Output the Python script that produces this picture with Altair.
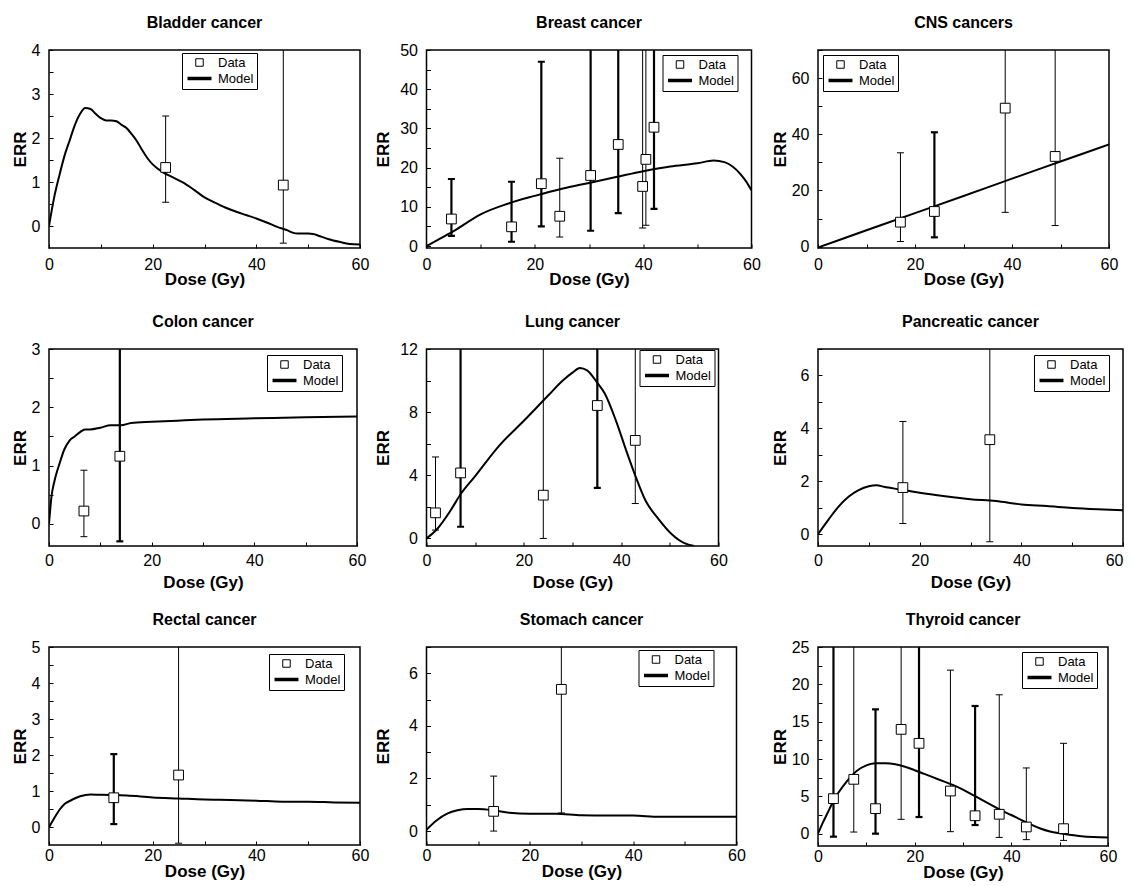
import altair as alt
import pandas as pd

FONT = "Liberation Sans"

# ---------------- data ----------------
X_TICKS = [0, 10, 20, 30, 40, 50, 60]
LEGEND_ITEMS = ["Data", "Model"]

bladder_line_x = [0, 1, 2, 3, 4, 5, 6, 7, 8, 9, 10, 11, 12, 13, 14, 15, 16, 17, 18, 19, 20, 22, 24, 26, 28, 30,
                  32, 34, 36, 38, 40, 42, 44, 46, 47, 48, 50, 51, 52, 54, 56, 58, 60]
bladder_line_y = [0, 0.65, 1.15, 1.6, 1.95, 2.3, 2.55, 2.68, 2.66, 2.55, 2.45, 2.4, 2.4, 2.38, 2.3, 2.22, 2.08,
                  1.92, 1.72, 1.54, 1.4, 1.22, 1.1, 0.98, 0.82, 0.65, 0.53, 0.42, 0.33, 0.25, 0.17, 0.08, -0.02,
                  -0.1, -0.15, -0.17, -0.17, -0.18, -0.22, -0.3, -0.36, -0.41, -0.42]
bladder_dose = [22.5, 45.2]
bladder_err = [1.33, 0.93]
bladder_lo = [0.54, -0.39]
bladder_hi = [2.5, 6.0]
bladder_thick = [0, 0]
bladder_yticks = [0, 0.5, 1, 1.5, 2, 2.5, 3, 3.5, 4]

breast_line_x = [0, 2, 5, 10, 15, 20, 25, 30, 35, 40, 45, 50, 53, 55, 56.5, 58, 59, 60]
breast_line_y = [0, 1.5, 3.8, 8.1, 10.8, 12.8, 14.6, 16.1, 17.6, 19.1, 20.3, 21.1, 21.8, 21.4, 20.3, 18.3, 16.5, 14.2]
breast_dose = [4.6, 15.7, 21.2, 24.6, 30.3, 35.4, 39.9, 40.5, 42.0]
breast_err = [6.9, 4.9, 15.9, 7.6, 18.0, 25.9, 15.2, 22.1, 30.3]
breast_lo = [2.6, 1.1, 5.0, 2.3, 3.9, 8.4, 4.6, 5.3, 9.5]
breast_hi = [17.1, 16.4, 47.0, 22.4, 60, 60, 60, 60, 60]
breast_thick = [1, 1, 1, 0, 1, 1, 0, 0, 1]
breast_yticks = [0, 5, 10, 15, 20, 25, 30, 35, 40, 45, 50]

cns_line_x = [0, 10, 20, 30, 40, 50, 60]
cns_line_y = [-0.3, 5.8, 11.9, 18.0, 24.2, 30.3, 36.4]
cns_dose = [17.0, 24.0, 38.6, 48.9]
cns_err = [8.7, 12.5, 49.3, 32.1]
cns_lo = [1.8, 3.3, 12.2, 7.5]
cns_hi = [33.4, 40.7, 80, 80]
cns_thick = [0, 1, 0, 0]
cns_yticks = [0, 10, 20, 30, 40, 50, 60, 70]

colon_line_x = [0, 0.5, 1, 1.5, 2, 3, 4, 5, 6, 7, 8, 10, 12, 14, 16, 20, 25, 30, 40, 50, 60]
colon_line_y = [0, 0.48, 0.71, 0.88, 1.02, 1.28, 1.43, 1.5, 1.57, 1.62, 1.62, 1.65, 1.69, 1.69, 1.73, 1.75,
                1.77, 1.79, 1.81, 1.83, 1.84]
colon_dose = [6.8, 13.8]
colon_err = [0.22, 1.16]
colon_lo = [-0.22, -0.30]
colon_hi = [0.92, 4.0]
colon_thick = [0, 1]
colon_yticks = [0, 0.5, 1, 1.5, 2, 2.5, 3]

lung_line_x = [0, 2, 5, 7, 10, 15, 20, 25, 28, 30, 31.5, 33, 35, 36.6, 39, 41, 43, 45, 47.6, 50.3, 53, 55]
lung_line_y = [0, 0.53, 1.8, 2.8, 3.95, 5.9, 7.45, 9.05, 10.0, 10.5, 10.8, 10.65, 9.9, 9.2, 7.4, 5.6, 3.9,
               2.4, 1.26, 0.3, -0.3, -0.48]
lung_dose = [1.85, 7.0, 24.0, 35.1, 42.9]
lung_err = [1.62, 4.15, 2.74, 8.42, 6.21]
lung_lo = [0.53, 0.74, 0.0, 3.2, 2.21]
lung_hi = [5.16, 14, 14, 14, 14]
lung_thick = [0, 1, 0, 1, 0]
lung_yticks = [0, 2, 4, 6, 8, 10, 12]

panc_line_x = [0, 2, 4, 6, 8, 10, 11.5, 13, 16, 20, 25, 30, 35, 40, 45, 50, 55, 60]
panc_line_y = [0, 0.53, 1.03, 1.41, 1.66, 1.81, 1.85, 1.79, 1.69, 1.56, 1.43, 1.32, 1.25, 1.12, 1.06, 0.99,
               0.94, 0.9]
panc_dose = [16.7, 33.8]
panc_err = [1.76, 3.57]
panc_lo = [0.4, -0.29]
panc_hi = [4.26, 8.0]
panc_thick = [0, 0]
panc_yticks = [0, 1, 2, 3, 4, 5, 6, 7]

rectal_line_x = [0, 1, 2, 3, 4, 6, 8, 10, 15, 20, 25, 30, 35, 40, 45, 50, 55, 60]
rectal_line_y = [0, 0.25, 0.48, 0.65, 0.73, 0.86, 0.91, 0.9, 0.88, 0.83, 0.8, 0.77, 0.76, 0.74, 0.71, 0.71,
                 0.69, 0.68]
rectal_dose = [12.5, 25.0]
rectal_err = [0.82, 1.45]
rectal_lo = [0.09, -0.44]
rectal_hi = [2.03, 6.0]
rectal_thick = [1, 0]
rectal_yticks = [0, 0.5, 1, 1.5, 2, 2.5, 3, 3.5, 4, 4.5, 5]

stomach_line_x = [0, 2, 4, 6, 8, 10, 13, 16, 20, 25, 30, 35, 40, 45, 50, 55, 60]
stomach_line_y = [0.05, 0.41, 0.66, 0.79, 0.84, 0.84, 0.79, 0.7, 0.66, 0.66, 0.6, 0.59, 0.59, 0.54, 0.54,
                  0.54, 0.54]
stomach_dose = [13.0, 26.1]
stomach_err = [0.75, 5.39]
stomach_lo = [0.0, 0.69]
stomach_hi = [2.09, 8.0]
stomach_thick = [0, 0]
stomach_yticks = [0, 1, 2, 3, 4, 5, 6, 7]

thyroid_line_x = [0, 1, 2, 3, 4, 6, 8, 10, 12, 14, 16, 18, 20, 22, 24, 26, 28, 30, 32, 34, 36, 38, 40, 42,
                  44, 46, 48, 50, 52, 54, 57, 60]
thyroid_line_y = [0, 1.47, 2.8, 4.15, 5.27, 7.05, 8.4, 9.15, 9.42, 9.42, 9.29, 8.97, 8.5, 8.0, 7.5, 7.0,
                  6.5, 5.9, 5.2, 4.5, 3.8, 3.1, 2.5, 1.85, 1.25, 0.7, 0.3, 0.05, -0.15, -0.3, -0.45, -0.5]
thyroid_dose = [3.2, 7.4, 11.9, 17.2, 20.9, 27.4, 32.5, 37.5, 43.1, 50.8]
thyroid_err = [4.69, 7.28, 3.35, 13.97, 12.1, 5.71, 2.4, 2.6, 0.9, 0.67]
thyroid_lo = [-0.4, 0.22, 0.0, 1.92, 2.23, 0.27, 1.16, -0.5, -0.8, -0.9]
thyroid_hi = [30, 30, 16.65, 30, 30, 21.9, 17.1, 18.6, 8.8, 12.1]
thyroid_thick = [1, 0, 1, 0, 1, 0, 1, 0, 0, 0]
thyroid_yticks = [0, 2.5, 5, 7.5, 10, 12.5, 15, 17.5, 20, 22.5, 25]

# ---------------- layout / style per panel ----------------
# (title, line x, line y, dose, err, lo, hi, thick, y ticks, y domain, major step,
#  width, height, legendX, legendY, column, row)
PANELS = [
    ("Bladder cancer", bladder_line_x, bladder_line_y, bladder_dose, bladder_err, bladder_lo, bladder_hi,
     bladder_thick, bladder_yticks, [-0.5, 4], 1, 311, 198, 133, 3, 0, 0),
    ("Breast cancer", breast_line_x, breast_line_y, breast_dose, breast_err, breast_lo, breast_hi,
     breast_thick, breast_yticks, [-0.5, 50], 10, 325, 198, 236, 5, 1, 0),
    ("CNS cancers", cns_line_x, cns_line_y, cns_dose, cns_err, cns_lo, cns_hi,
     cns_thick, cns_yticks, [-0.5, 70], 20, 291, 198, 5, 5, 2, 0),
    ("Colon cancer", colon_line_x, colon_line_y, colon_dose, colon_err, colon_lo, colon_hi,
     colon_thick, colon_yticks, [-0.38, 3], 1, 308, 197, 218, 6, 0, 1),
    ("Lung cancer", lung_line_x, lung_line_y, lung_dose, lung_err, lung_lo, lung_hi,
     lung_thick, lung_yticks, [-0.48, 12], 4, 292, 197, 213, 1, 1, 1),
    ("Pancreatic cancer", panc_line_x, panc_line_y, panc_dose, panc_err, panc_lo, panc_hi,
     panc_thick, panc_yticks, [-0.45, 7], 2, 305, 197, 216, 6, 2, 1),
    ("Rectal cancer", rectal_line_x, rectal_line_y, rectal_dose, rectal_err, rectal_lo, rectal_hi,
     rectal_thick, rectal_yticks, [-0.49, 5], 1, 311, 198, 220, 7, 0, 2),
    ("Stomach cancer", stomach_line_x, stomach_line_y, stomach_dose, stomach_err, stomach_lo, stomach_hi,
     stomach_thick, stomach_yticks, [-0.53, 7], 2, 310, 198, 212, 3, 1, 2),
    ("Thyroid cancer", thyroid_line_x, thyroid_line_y, thyroid_dose, thyroid_err, thyroid_lo, thyroid_hi,
     thyroid_thick, thyroid_yticks, [-1.65, 25], 5, 290, 199, 204, 5, 2, 2),
]

Y_EXTENT = [23.5, 38.5, 32.5]          # per column
X_LABEL_PAD = [8, 6, 2]                # per row
X_TITLE_PAD = [-1, 6, 0]               # per row


def make_panel(title, lx, ly, dx, dy, lo, hi, thick, yticks, ydom, major, w, h, lgx, lgy, col, row):
    line_df = pd.DataFrame({"dose": lx, "err": ly})
    pts_df = pd.DataFrame({"dose": dx, "err": dy, "lo": lo, "hi": hi, "thick": thick,
                           "series": [LEGEND_ITEMS[0]] * len(dx)})

    xs = alt.Scale(domain=[0, 60], nice=False, zero=False)
    ys = alt.Scale(domain=ydom, nice=False, zero=False)

    x_label_align = "center"
    if col == 2 and w > 300:
        x_label_align = {"condition": {"test": "datum.value == 60", "value": "right"}, "value": "center"}

    xaxis = alt.Axis(values=X_TICKS, title="Dose (Gy)",
                     labelExpr="datum.value % 20 == 0 ? datum.label : ''",
                     offset=-4, tickSize=4, domain=False, grid=False, labelFlush=False,
                     labelAlign=x_label_align,
                     labelPadding=X_LABEL_PAD[row], titlePadding=X_TITLE_PAD[row])
    yaxis = alt.Axis(values=yticks, title="ERR",
                     labelExpr=(f"abs(datum.value/{major} - round(datum.value/{major})) < 0.001"
                                " ? format(datum.value, '~g') : ''"),
                     offset=-4, tickSize=4, domain=False, grid=False, labelFlush=False,
                     labelPadding=9, titlePadding=0,
                     minExtent=Y_EXTENT[col], maxExtent=Y_EXTENT[col])

    X = alt.X("dose:Q", scale=xs, axis=xaxis)
    Yerr = alt.Y("err:Q", scale=ys, axis=yaxis)

    thick_w = alt.condition("datum.thick == 1", alt.value(2.2), alt.value(1))

    line = alt.Chart(line_df).mark_line(color="black", strokeWidth=2, clip=True,
                                        interpolate="monotone").encode(x=X, y=Yerr)

    bars = alt.Chart(pts_df).mark_rule(color="black", clip=True).encode(
        x=X, y=alt.Y("lo:Q", scale=ys, axis=yaxis), y2="hi:Q", strokeWidth=thick_w)

    cap_lo = alt.Chart(pts_df).mark_rule(color="black", clip=True, xOffset=-3.5, x2Offset=3.5).encode(
        x=X, x2="dose:Q", y=alt.Y("lo:Q", scale=ys, axis=yaxis), strokeWidth=thick_w)
    cap_hi = alt.Chart(pts_df).mark_rule(color="black", clip=True, xOffset=-3.5, x2Offset=3.5).encode(
        x=X, x2="dose:Q", y=alt.Y("hi:Q", scale=ys, axis=yaxis), strokeWidth=thick_w)

    # white backing so the curve / bars do not show through the open squares
    backing = alt.Chart(pts_df).mark_point(filled=True, shape="square", color="white", size=95,
                                           opacity=1).encode(x=X, y=Yerr)

    leg = alt.Legend(title=None, orient="none", legendX=lgx, legendY=lgy)
    pts = alt.Chart(pts_df).mark_point(filled=False, color="black", size=95, opacity=1).encode(
        x=X, y=Yerr,
        shape=alt.Shape("series:N",
                        scale=alt.Scale(domain=LEGEND_ITEMS, range=["square", "M-3.2,0H3.2"]),
                        legend=leg),
        strokeWidth=alt.StrokeWidth("series:N",
                                    scale=alt.Scale(domain=LEGEND_ITEMS, range=[1, 3.5]),
                                    legend=leg),
    )

    top_labelled = abs(ydom[1] / major - round(ydom[1] / major)) < 0.001
    return alt.layer(line, bars, cap_lo, cap_hi, backing, pts).properties(
        width=w, height=h,
        title=alt.TitleParams(title, anchor="middle", frame="group", offset=11 if top_labelled else 19),
    )


panels = [make_panel(*p) for p in PANELS]

chart = alt.concat(
    *panels, columns=3, spacing={"row": 101, "column": 66.5}, bounds="flush", align="each"
).resolve_scale(
    x="independent", y="independent", shape="independent", strokeWidth="independent"
).resolve_legend(
    shape="independent", strokeWidth="independent"
).properties(
    padding={"left": 2, "top": 5, "right": 0, "bottom": 0}
).configure(
    font=FONT
).configure_view(
    stroke="black", strokeWidth=1.5
).configure_axis(
    labelFont=FONT, labelFontSize=16, labelColor="black",
    titleFont=FONT, titleFontSize=17, titleFontWeight="bold", titleColor="black",
    tickColor="black", tickWidth=1
).configure_title(
    font=FONT, fontSize=16, fontWeight="bold", color="black"
).configure_legend(
    padding=3, strokeColor="black", fillColor="white",
    labelFont=FONT, labelFontSize=13, labelColor="black",
    symbolSize=56, symbolOffset=8, labelOffset=12, rowPadding=1
)

chart.save("out.html", embed_options={"renderer": "svg", "actions": False})
